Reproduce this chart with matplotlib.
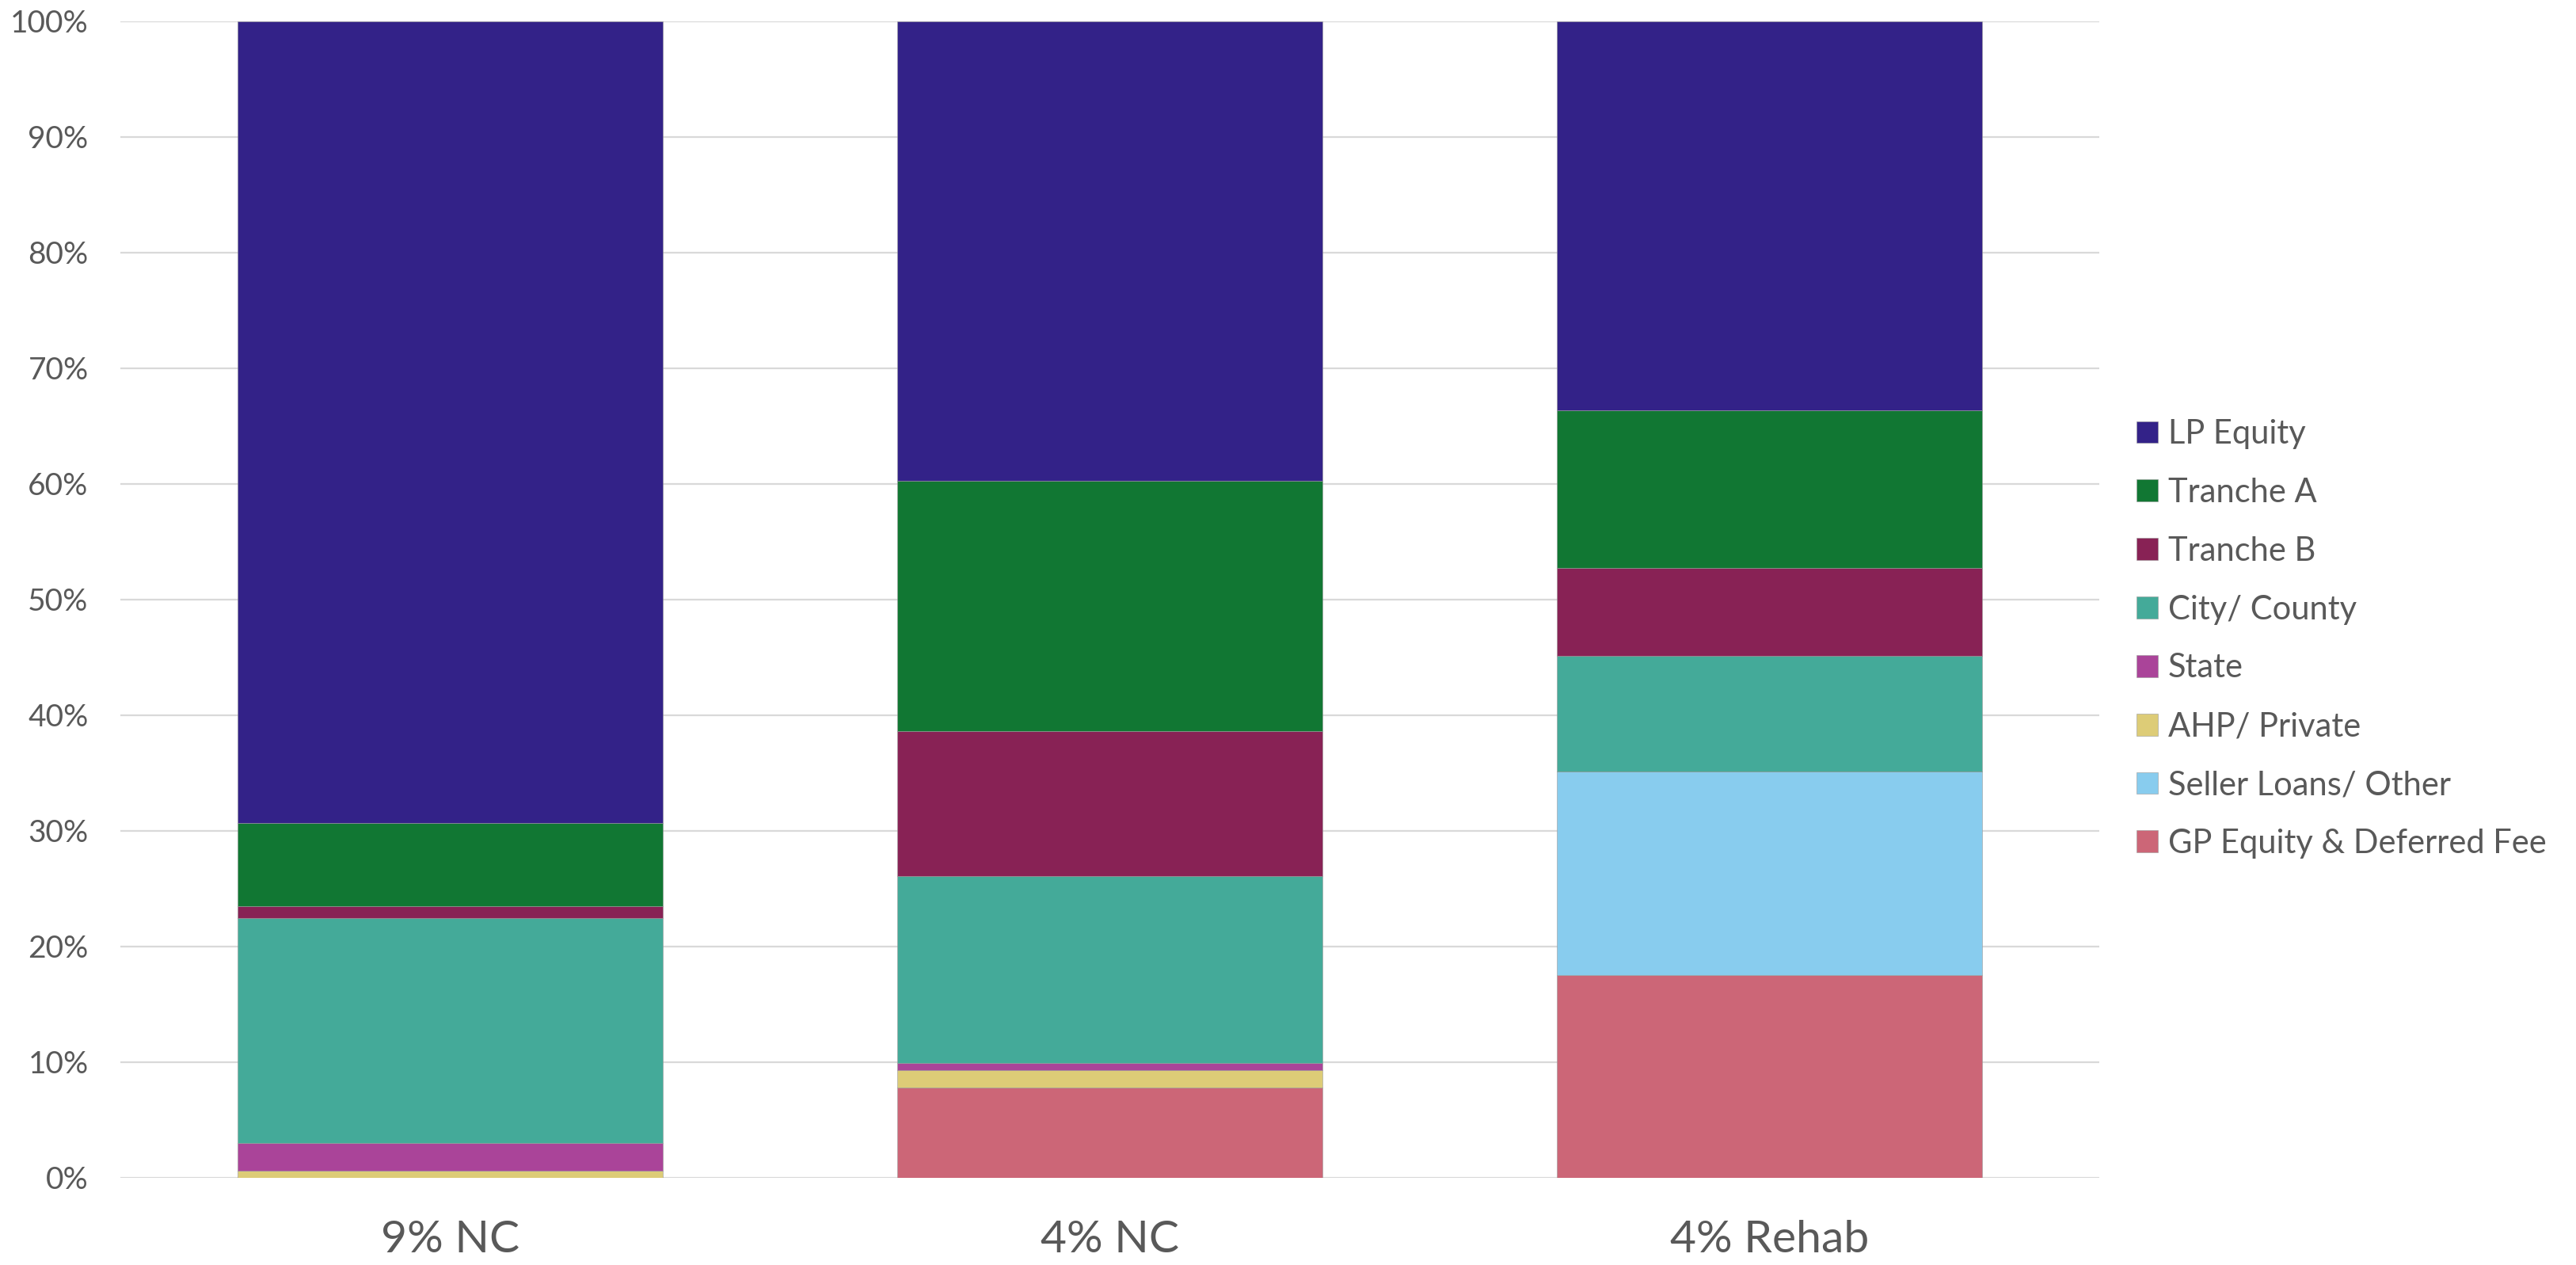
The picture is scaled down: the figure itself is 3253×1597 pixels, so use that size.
import numpy as np
import matplotlib
matplotlib.use('Agg')
from matplotlib import pyplot as plt

# data (percent of total sources)
categories = ['9% NC', '4% NC', '4% Rehab']
gp_equity = [0.0, 7.83, 17.53]
seller_loans = [0.0, 0.0, 17.61]
ahp_private = [0.59, 1.46, 0.0]
state = [2.45, 0.66, 0.0]
city_county = [19.43, 16.13, 10.00]
tranche_b = [1.02, 12.53, 7.62]
tranche_a = [7.22, 21.69, 13.63]
lp_equity = [69.29, 39.70, 33.61]

# bottom to top
series = [
    ('GP Equity & Deferred Fee', gp_equity, '#CC6677'),
    ('Seller Loans/ Other', seller_loans, '#88CCEE'),
    ('AHP/ Private', ahp_private, '#DDCC77'),
    ('State', state, '#AA4499'),
    ('City/ County', city_county, '#44AA99'),
    ('Tranche B', tranche_b, '#882255'),
    ('Tranche A', tranche_a, '#117733'),
    ('LP Equity', lp_equity, '#332288'),
]

plt.rcParams['font.family'] = ['Lato', 'DejaVu Sans']

fig = plt.figure(figsize=(32.53, 15.97), dpi=100)
ax = fig.add_axes([0.0467, 0.0689, 0.7682, 0.9142])

x = np.arange(len(categories))
bottom = np.zeros(len(categories))
handles = []
for name, vals, col in series:
    vals = np.array(vals)
    h = ax.bar(x, vals, 0.645, bottom=bottom, color=col, label=name,
               edgecolor='#9a9a9a', linewidth=0.4, zorder=3)
    handles.append(h)
    bottom += vals

ax.set_xlim(-0.5, 2.5)
ax.set_ylim(0, 100)
ax.set_yticks(np.arange(0, 101, 10))
ax.set_yticklabels(['%d%%' % v for v in range(0, 101, 10)])
ax.set_xticks(x)
ax.set_xticklabels(categories)
ax.yaxis.grid(True, color='#D9D9D9', linewidth=1.6, zorder=0)
for s in ['top', 'right', 'left', 'bottom']:
    ax.spines[s].set_visible(False)
ax.tick_params(axis='y', length=0, pad=29, labelsize=28, labelcolor='#595959')
ax.tick_params(axis='x', length=0, pad=38, labelsize=41, labelcolor='#595959')

fig.legend(handles[::-1], [s[0] for s in series][::-1],
           loc='center left', bbox_to_anchor=(0.8295, 0.495), frameon=False,
           fontsize=30, labelcolor='#595959', handlelength=0.65,
           handleheight=0.65, handletextpad=0.3, labelspacing=0.86,
           borderpad=0, borderaxespad=0)

fig.savefig('out.png', dpi=100)
